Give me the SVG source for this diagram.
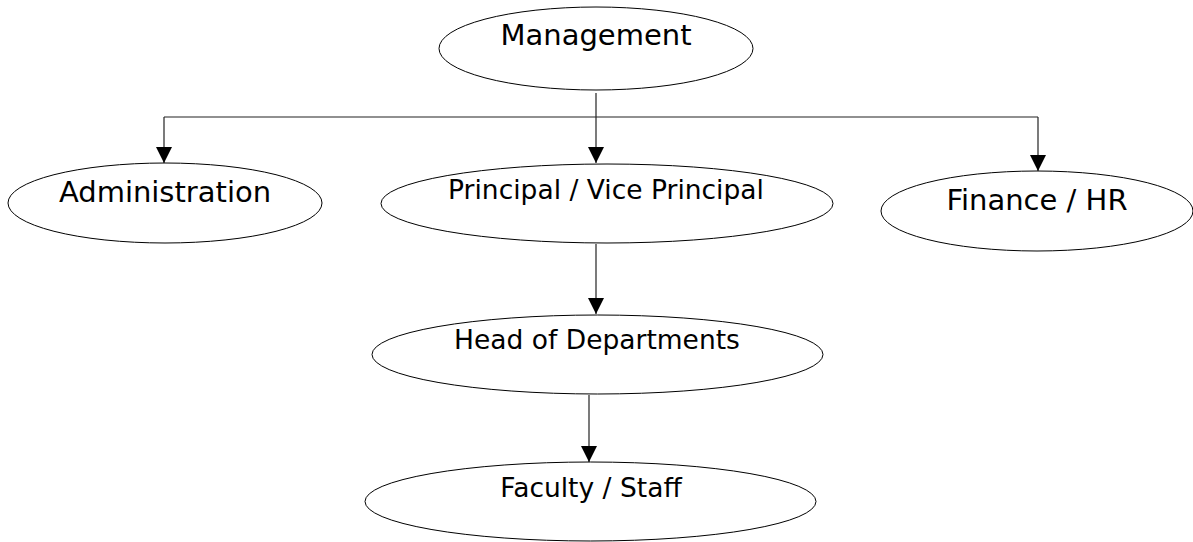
<svg xmlns="http://www.w3.org/2000/svg" width="1193" height="542" viewBox="0 0 1193 542">
<style>
.node ellipse{fill:#fff;stroke:#000;stroke-width:1}
.node text{font-family:"DejaVu Sans",sans-serif;fill:#000;text-anchor:middle}
.big{font-size:29px}
.small{font-size:26.5px}
.conn{fill:none;stroke:#222;stroke-width:1.2}
</style>
<defs>
<marker id="arr" markerUnits="userSpaceOnUse" markerWidth="16" markerHeight="16" refX="16" refY="8" orient="auto" viewBox="0 0 16 16">
<path d="M0,0 L16,8 L0,16 z" fill="#000"/>
</marker>
</defs>
<rect width="1193" height="542" fill="#fff"/>
<g id="connectors">
<path class="conn" d="M596,93 V163" marker-end="url(#arr)"/>
<path class="conn" d="M164,117 H1038"/>
<path class="conn" d="M164,117 V163" marker-end="url(#arr)"/>
<path class="conn" d="M1038,117 V171" marker-end="url(#arr)"/>
<path class="conn" d="M596,244 V314" marker-end="url(#arr)"/>
<path class="conn" d="M589,395 V462" marker-end="url(#arr)"/>
</g>
<g id="management" class="node">
<ellipse cx="596" cy="48.5" rx="157" ry="41.5"/>
<text class="big" x="596" y="45">Management</text>
</g>
<g id="administration" class="node">
<ellipse cx="165" cy="203" rx="157" ry="40"/>
<text class="big" x="165" y="202">Administration</text>
</g>
<g id="principal" class="node">
<ellipse cx="607" cy="203.5" rx="226" ry="39.5"/>
<text class="small" x="606" y="199">Principal / Vice Principal</text>
</g>
<g id="finance" class="node">
<ellipse cx="1037" cy="211" rx="156" ry="40"/>
<text class="big" x="1037" y="210">Finance / HR</text>
</g>
<g id="hod" class="node">
<ellipse cx="597.5" cy="354.5" rx="225.5" ry="39.5"/>
<text class="small" x="597" y="349">Head of Departments</text>
</g>
<g id="faculty" class="node">
<ellipse cx="590.5" cy="501.5" rx="225.5" ry="39.5"/>
<text class="small" x="591" y="497">Faculty / Staff</text>
</g>
</svg>
